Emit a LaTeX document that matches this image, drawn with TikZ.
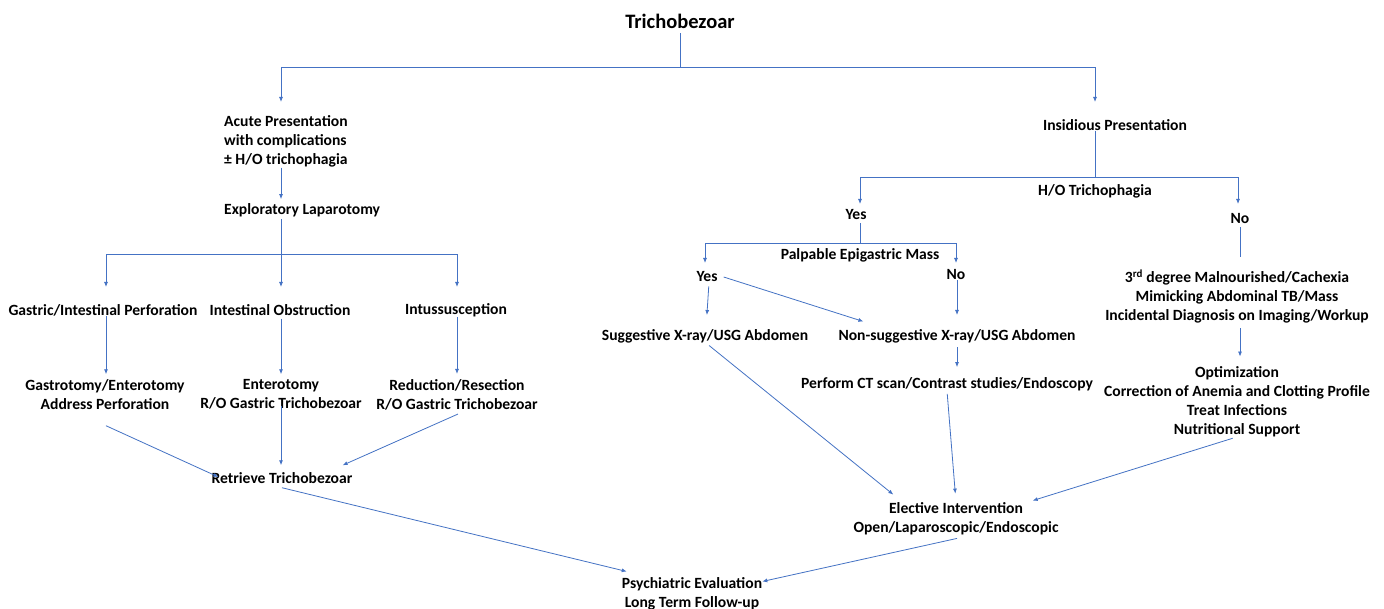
\documentclass[tikz,border=0pt]{standalone}
\usepackage{fontspec}
\setmainfont{Carlito}
\usetikzlibrary{arrows.meta}
\definecolor{lblue}{RGB}{68,114,196}
\tikzset{
  ln/.style={draw=lblue, line width=0.8pt},
  ar/.style={ln, -{Latex[length=5pt,width=4pt]}},
  tx/.style={font=\fontsize{15.6}{19}\selectfont\bfseries, inner sep=0pt, align=center, text=black},
  ttl/.style={font=\fontsize{20.5}{24}\selectfont\bfseries, inner sep=0pt, text=black},
}
\begin{document}
\begin{tikzpicture}[x=1pt,y=-1pt]
\useasboundingbox (0,0) rectangle (1384,609);
\fill[white] (0,0) rectangle (1384,609);

% ---------- nodes ----------
\node[ttl] (tri) at (680,21) {Trichobezoar};
\node[tx, align=left, anchor=west] (acute) at (224,141.5) {Acute Presentation\\with complications\\± H/O trichophagia};
\node[tx, anchor=west] (explap) at (224,210) {Exploratory Laparotomy};
\node[tx] (gip) at (103,310) {Gastric/Intestinal Perforation};
\node[tx] (io) at (280,310) {Intestinal Obstruction};
\node[tx] (intus) at (456,310) {Intussusception};
\node[tx] (gast) at (105,394.5) {Gastrotomy/Enterotomy\\Address Perforation};
\node[tx] (entero) at (281,394.5) {Enterotomy\\R/O Gastric Trichobezoar};
\node[tx] (redu) at (457,394.5) {Reduction/Resection\\R/O Gastric Trichobezoar};
\node[tx] (retr) at (282,478) {Retrieve Trichobezoar};
\node[tx] (psych) at (692,594) {Psychiatric Evaluation\\Long Term Follow-up};

\node[tx] (insid) at (1115,125) {Insidious Presentation};
\node[tx] (hot) at (1095,191) {H/O Trichophagia};
\node[tx] (yes1) at (856,215) {Yes};
\node[tx] (no1) at (1240,219) {No};
\node[tx] (pem) at (860,255) {Palpable Epigastric Mass};
\node[tx] (yes2) at (707,277) {Yes};
\node[tx] (no2) at (956,275) {No};
\node[tx] (sugg) at (705,336) {Suggestive X-ray/USG Abdomen};
\node[tx] (nonsugg) at (957,336) {Non-suggestive X-ray/USG Abdomen};
\node[tx] (ct) at (947,384) {Perform CT scan/Contrast studies/Endoscopy};
\node[tx] (third) at (1237,296.5) {3\textsuperscript{rd} degree Malnourished/Cachexia\\Mimicking Abdominal TB/Mass\\Incidental Diagnosis on Imaging/Workup};
\node[tx] (optim) at (1237,401.5) {Optimization\\Correction of Anemia and Clotting Profile\\Treat Infections\\Nutritional Support};
\node[tx] (elect) at (956,518.5) {Elective Intervention\\Open/Laparoscopic/Endoscopic};

% ---------- junctions and arrow tips ----------
\coordinate (jT) at (680,67);
\coordinate (tA) at (281,102);
\coordinate (tI) at (1095,102);
\coordinate (jE) at (281,254);
\coordinate (t1) at (106,287);
\coordinate (t2) at (281,287);
\coordinate (t3) at (457,287);
\coordinate (jH) at (1095,177);
\coordinate (tY1) at (860,204);
\coordinate (tN1) at (1238,204);
\coordinate (jP) at (860,243);
\coordinate (tY2) at (705,263);
\coordinate (tN2) at (956,263);

% ---------- left branch ----------
\draw[ln, shorten <=5pt] (tri.south) -- (jT);
\draw[ar] (jT) -| (tA);
\draw[ar] (jT) -| (tI);
\draw[ar, shorten >=4pt] (acute.south -| tA) -- (explap.north -| tA);
\draw[ar, shorten <=2pt] (explap.south -| t2) -- (t2);
\draw[ar] (jE) -| (t1);
\draw[ar] (jE) -| (t3);
\draw[ar, shorten >=5pt] (gip.south -| t1) -- (gast.north -| t1);
\draw[ar, shorten <=3pt, shorten >=5pt] (io.south -| t2) -- (gast.north -| t2);
\draw[ar, shorten >=5pt] (intus.south -| t3) -- (redu.north -| t3);
\draw[ar] ([xshift=1pt,yshift=-16pt]gast.south) -- ([xshift=7pt,yshift=1pt]retr.west);
\draw[ar, shorten <=-4pt, shorten >=7pt] (entero.south) -- (retr.north -| entero);
\draw[ar] ([xshift=1pt,yshift=-4pt]redu.south) -- ([xshift=-10pt,yshift=7pt]retr.north east);
\draw[ar] ([yshift=-4pt]retr.south) -- ([xshift=5pt,yshift=6pt]psych.north west);
\draw[ar] ([xshift=1pt,yshift=-3.5pt]elect.south) -- ([yshift=-4pt]psych.north east);

% ---------- right branch ----------
\draw[ln] (insid.south -| jH) -- (jH);
\draw[ar] (jH) -| (tY1);
\draw[ar] (jH) -| (tN1);
\draw[ln, shorten <=3pt] (yes1.south -| jP) -- (jP);
\draw[ar] (jP) -| (tY2);
\draw[ar] (jP) -| (tN2);
\draw[ln, shorten <=3pt, shorten >=13pt] (no1.south) -- (third.north -| no1);
\draw[ar, shorten <=4pt, shorten >=14pt] ([xshift=2pt]yes2.south) -- ([xshift=1pt]sugg.north);
\draw[ar] ([xshift=6pt]yes2.east) -- ([xshift=25pt,yshift=7.5pt]nonsugg.north west);
\draw[ar, shorten >=14pt] (no2.south -| nonsugg) -- (nonsugg.north);
\draw[ar, shorten <=4pt, shorten >=10pt] (nonsugg.south) -- (ct.north -| nonsugg);
\draw[ar, shorten <=5pt, shorten >=9.5pt] (third.south -| no1) -- (optim.north -| no1);
\draw[ar, shorten <=4.5pt] (optim.south) -- ([xshift=-26pt,yshift=1.5pt]elect.north east);
\draw[ar, shorten <=4pt] ([xshift=1pt]sugg.south) -- ([xshift=40pt,yshift=7.5pt]elect.north west);
\draw[ar, shorten <=3pt, shorten >=8.5pt] (ct.south) -- (elect.north);
\end{tikzpicture}
\end{document}
